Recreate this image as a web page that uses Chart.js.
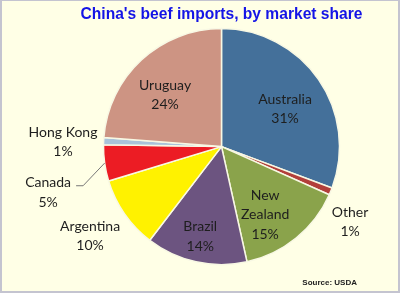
<!DOCTYPE html>
<html>
<head>
<meta charset="utf-8">
<script src="https://cdn.jsdelivr.net/npm/chart.js@4"></script>
<style>
	html, body { margin: 0; padding: 0; background: #ffffe6; }
	canvas { display: block; }
</style>
</head>
<body>
<canvas id="chartpie" width="400" height="293"></canvas>
<script>
// China's beef imports by market share (%), clockwise from 12 o'clock
var markets = ["Australia", "Other", "New Zealand", "Brazil", "Argentina", "Canada", "Hong Kong", "Uruguay"];
var shares = [31, 1, 15, 14, 10, 5, 1, 24];
var sliceColors = ["#44709a", "#b23f3a", "#8aa34b", "#6c5480", "#fff200", "#ec1c24", "#a9c3da", "#cd9483"];

// label placement: [radius factor, angle nudge in degrees, leader line]
var labelPlace = [
	[0.625, 4.2, false],
	[1.263, 8.1, false],
	[0.684, 6.5, false],
	[0.784, 0.8, false],
	[1.346, 0.6, false],
	[1.52, -6.8, true],
	[1.344, -1.0, false],
	[0.648, -4.8, false]
];
var labelLines = {
	"New Zealand": ["New", "Zealand"],
	"Hong Kong": ["Hong Kong"]
};

var frame = {
	id: "frame",
	beforeDraw: function (chart) {
		var ctx = chart.ctx;
		ctx.save();
		ctx.fillStyle = "#ffffe6";
		ctx.fillRect(0, 0, chart.width, chart.height);
		ctx.fillStyle = "#c4c4d0";
		ctx.fillRect(0, 0, chart.width, 1);
		ctx.fillRect(0, 0, 2, chart.height);
		ctx.fillRect(chart.width - 2, 0, 2, chart.height);
		ctx.fillRect(0, chart.height - 2, chart.width, 2);
		ctx.restore();
	},
	afterDraw: function (chart) {
		var ctx = chart.ctx;
		ctx.save();
		ctx.fillStyle = "#222";
		ctx.font = "bold 8px 'Liberation Sans', Arial, sans-serif";
		ctx.textAlign = "right";
		ctx.textBaseline = "middle";
		ctx.fillText("Source: USDA", 357, 283);
		ctx.restore();
	}
};

var sliceLabels = {
	id: "sliceLabels",
	afterDatasetsDraw: function (chart) {
		var ctx = chart.ctx;
		var arcs = chart.getDatasetMeta(0).data;
		var lh = 19.5;
		ctx.save();
		ctx.font = "14px Lato, 'Open Sans', sans-serif";
		ctx.fillStyle = "#1e1e1e";
		ctx.textAlign = "center";
		ctx.textBaseline = "middle";
		for (var i = 0; i < arcs.length; i++) {
			var p = arcs[i].getProps(["x", "y", "startAngle", "endAngle", "outerRadius"], true);
			var mid = (p.startAngle + p.endAngle) / 2;
			var a = mid + labelPlace[i][1] * Math.PI / 180;
			var d = labelPlace[i][0] * p.outerRadius;
			var lx = p.x + d * Math.cos(a);
			var ly = p.y + d * Math.sin(a);
			var lines = (labelLines[markets[i]] || [markets[i]]).concat([shares[i] + "%"]);
			var top = ly - (lines.length - 1) * lh / 2;
			for (var j = 0; j < lines.length; j++) {
				ctx.fillText(lines[j], lx, top + j * lh);
			}
			if (labelPlace[i][2]) {
				ctx.strokeStyle = "#777";
				ctx.lineWidth = 1;
				ctx.beginPath();
				ctx.moveTo(p.x + p.outerRadius * Math.cos(mid), p.y + p.outerRadius * Math.sin(mid));
				ctx.lineTo(lx + 35, top + 3);
				ctx.lineTo(lx + 28, top + 3);
				ctx.stroke();
			}
		}
		ctx.restore();
	}
};

function CreateChart() {
	var config = {
		type: "pie",
		data: {
			labels: markets,
			datasets: [{
				data: shares,
				backgroundColor: sliceColors,
				borderColor: "#f8f8e4",
				borderWidth: 1.5,
				hoverOffset: 0
			}]
		},
		options: {
			responsive: false,
			animation: false,
			radius: 118,
			layout: {
				padding: { left: 43, right: 0, top: 0, bottom: 28 }
			},
			plugins: {
				legend: { display: false },
				tooltip: { enabled: false },
				title: {
					display: true,
					text: "China's beef imports, by market share",
					color: "#1414e6",
					font: { family: "'Liberation Sans', Arial, sans-serif", size: 15.6, weight: "bold" },
					padding: { top: 5.5, bottom: 4 }
				}
			}
		},
		plugins: [frame, sliceLabels]
	};
	var chartctx = document.getElementById("chartpie").getContext("2d");
	window.chartpie = new Chart(chartctx, config);
}

CreateChart();
</script>
</body>
</html>
